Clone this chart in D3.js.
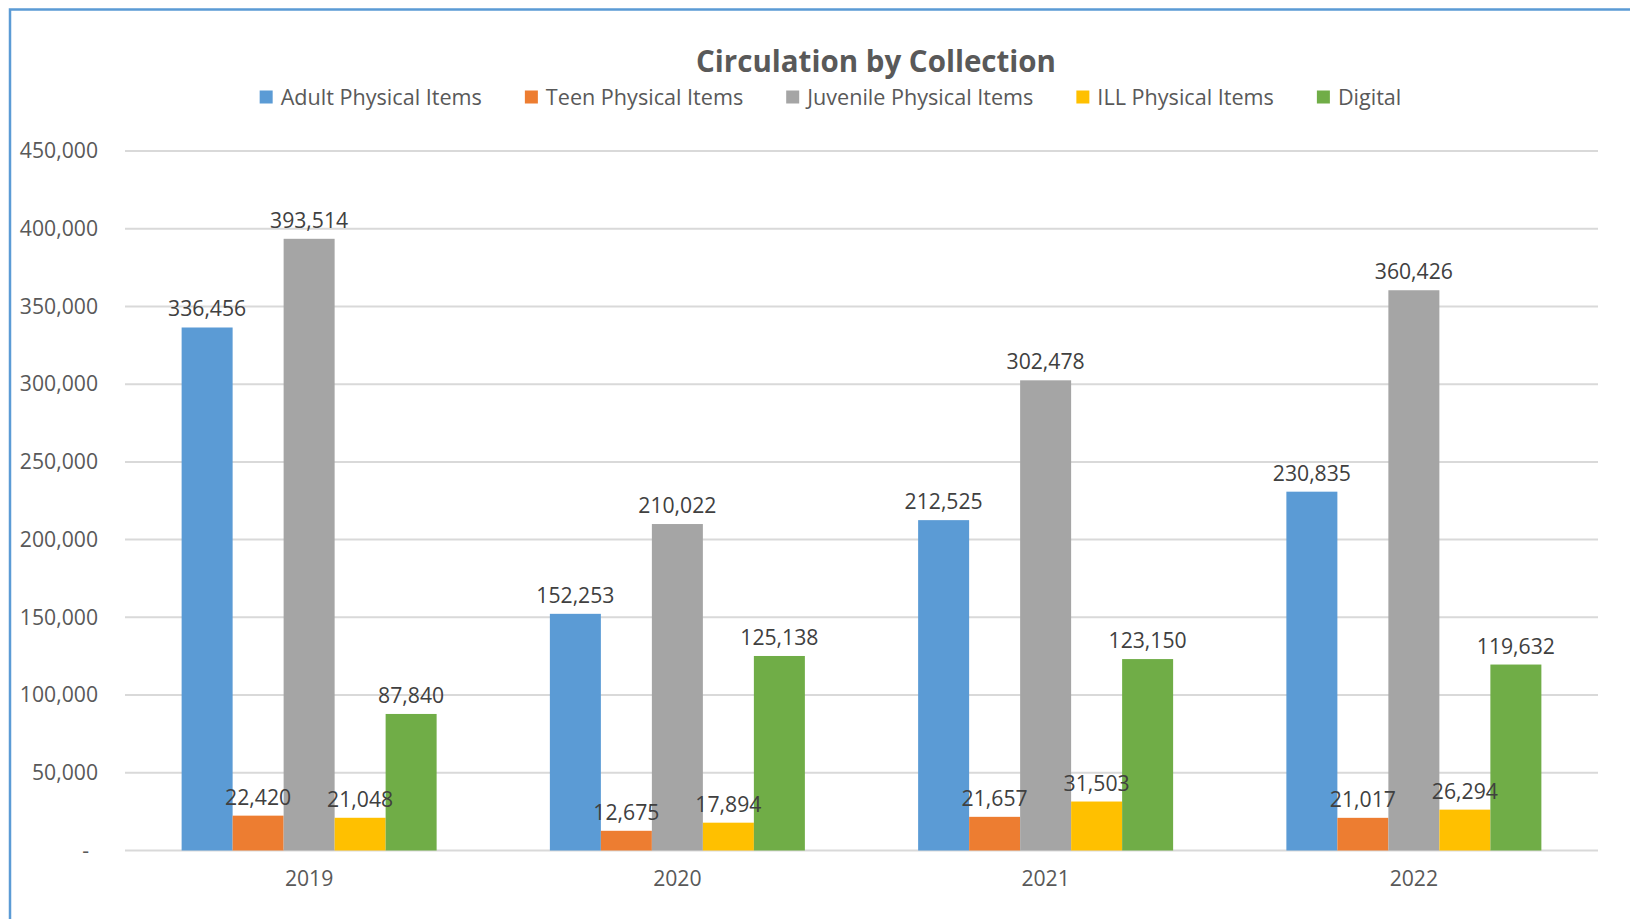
<!DOCTYPE html>
<html>
<head>
<meta charset="utf-8">
<script src="https://cdn.jsdelivr.net/npm/d3@7"></script>
<style>
  html, body { margin: 0; padding: 0; background: #fff; }
  svg { display: block; }
  text { font-family: "Open Sans", Lato, sans-serif; }
</style>
</head>
<body>
<svg id="chart" width="1630" height="919"></svg>
<script>
// ---- data ----
const years = ["2019", "2020", "2021", "2022"];
const seriesNames = ["Adult Physical Items", "Teen Physical Items", "Juvenile Physical Items", "ILL Physical Items", "Digital"];
const adult    = [336456, 152253, 212525, 230835];
const teen     = [22420, 12675, 21657, 21017];
const juvenile = [393514, 210022, 302478, 360426];
const ill      = [21048, 17894, 31503, 26294];
const digital  = [87840, 125138, 123150, 119632];
const yTicks   = [0, 50000, 100000, 150000, 200000, 250000, 300000, 350000, 400000, 450000];
const colors   = ["#5B9BD5", "#ED7D31", "#A5A5A5", "#FFC000", "#70AD47"];
const title    = "Circulation by Collection";

const seriesValues = [adult, teen, juvenile, ill, digital];

// ---- layout ----
const svg = d3.select("#chart");
const W = 1630, H = 919;
const plot = { left: 125, right: 1598, top: 151, bottom: 850.5 };
const FONT = "'Open Sans', Lato, sans-serif";
const numSize = 21.2;
const legendSize = 21.6;

// chart border (only top/left visible, the rest is cropped off)
svg.append("rect")
  .attr("x", 10).attr("y", 9.5)
  .attr("width", W + 50).attr("height", H + 50)
  .attr("fill", "#fff")
  .attr("stroke", "#5B9BD5").attr("stroke-width", 2.5);

const y = d3.scaleLinear().domain([0, 450000]).range([plot.bottom, plot.top]);
const stepInner = 1 - 255 / 368.25;
const x0 = d3.scaleBand().domain(years).range([plot.left, plot.right])
  .paddingInner(stepInner).paddingOuter(stepInner / 2);
const x1 = d3.scaleBand().domain(seriesNames).range([0, x0.bandwidth()]).padding(0);

// gridlines
const grid = svg.append("g");
grid.selectAll("line").data(yTicks).join("line")
  .attr("x1", plot.left).attr("x2", plot.right)
  .attr("y1", d => y(d)).attr("y2", d => y(d))
  .attr("stroke", "#d9d9d9").attr("stroke-width", 2);

// y axis
const yAxis = d3.axisLeft(y).tickValues(yTicks)
  .tickFormat(d => d === 0 ? "-" : d3.format(",")(d))
  .tickSize(0).tickPadding(27);
const yg = svg.append("g").attr("transform", `translate(${plot.left},0)`).call(yAxis);
yg.select(".domain").remove();
yg.selectAll("text")
  .attr("font-size", numSize).attr("fill", "#595959")
  .style("font-family", FONT);
yg.selectAll(".tick").filter(d => d === 0).select("text").attr("dx", -9).attr("dy", "0.34em");

// bars
const groups = svg.append("g").selectAll("g").data(years).join("g")
  .attr("transform", d => `translate(${x0(d)},0)`);

groups.each(function(year, yi) {
  const g = d3.select(this);
  const data = seriesNames.map((s, si) => ({ s, si, v: seriesValues[si][yi] }));
  g.selectAll("rect").data(data).join("rect")
    .attr("x", d => x1(d.s))
    .attr("y", d => y(d.v))
    .attr("width", x1.bandwidth())
    .attr("height", d => y(0) - y(d.v))
    .attr("fill", d => colors[d.si]);
  g.selectAll("text").data(data).join("text")
    .attr("x", d => x1(d.s) + x1.bandwidth() / 2)
    .attr("y", d => y(d.v) - 11)
    .attr("text-anchor", "middle")
    .attr("font-size", numSize)
    .attr("fill", "#404040")
    .text(d => d3.format(",")(d.v));
});

// x axis
const xAxis = d3.axisBottom(x0).tickSize(0).tickPadding(20);
const xg = svg.append("g").attr("transform", `translate(0,${plot.bottom})`).call(xAxis);
xg.select(".domain").remove();
xg.selectAll("text").attr("font-size", numSize).attr("fill", "#595959")
  .style("font-family", FONT);

// title
svg.append("text")
  .attr("x", 876).attr("y", 71.5)
  .attr("text-anchor", "middle")
  .attr("font-size", 29.5).attr("font-weight", "bold")
  .attr("fill", "#595959")
  .text(title);

// legend
const legend = svg.append("g");
const items = legend.selectAll("g").data(seriesNames).join("g");
items.append("rect").attr("width", 13).attr("height", 13).attr("y", -13 / 2)
  .attr("fill", (d, i) => colors[i]);
items.append("text").attr("x", 21).attr("y", 0).attr("dy", "0.35em")
  .attr("font-size", legendSize).attr("fill", "#595959").text(d => d);
let cx = 0;
items.each(function() {
  const w = this.getBBox().width;
  d3.select(this).attr("transform", `translate(${cx},97)`);
  cx += w + 43;
});
const totalW = cx - 43;
legend.attr("transform", `translate(${830.5 - totalW / 2},0)`);
</script>
</body>
</html>
